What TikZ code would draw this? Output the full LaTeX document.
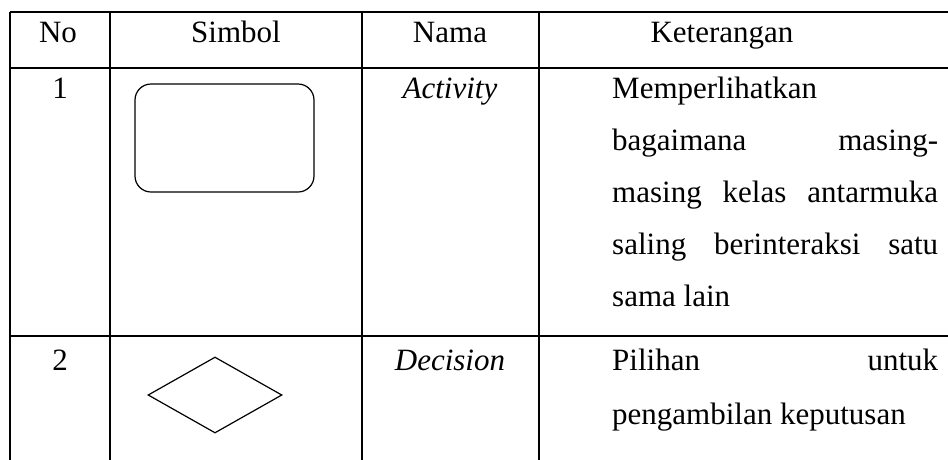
\documentclass[tikz,border=0pt]{standalone}
\usepackage{fontspec}
\setmainfont{Liberation Serif}
\usetikzlibrary{shapes.geometric}
\tikzset{
  tbl/.style={line width=1.6pt},
  txt/.style={inner sep=0pt, anchor=base},
  ktxt/.style={inner sep=0pt, anchor=base west},
  shp/.style={draw, line width=1.2pt, inner sep=0pt}
}
\newcommand{\jline}[1]{\makebox[326pt][s]{#1}}
\begin{document}
\begin{tikzpicture}[x=1pt,y=-1pt,font=\fontsize{31}{36}\selectfont]
\useasboundingbox (0,0) rectangle (948,459);
\clip (0,0) rectangle (948,459);
% table grid
\draw[tbl] (10,12) -- (970,12);
\draw[tbl] (10,68) -- (970,68);
\draw[tbl] (10,336) -- (970,336);
\draw[tbl] (10,12) -- (10,470);
\draw[tbl] (110,12) -- (110,470);
\draw[tbl] (362,12) -- (362,470);
\draw[tbl] (539,12) -- (539,470);
% header
\node[txt] (hno) at (58,42) {No};
\node[txt] (hsim) at (236,42) {Simbol};
\node[txt] (hnama) at (450,42) {Nama};
\node[txt] (hket) at (722,42) {Keterangan};
% row 1
\node[txt] (n1) at (60,98) {1};
\node[shp, rounded corners=16pt, minimum width=179pt, minimum height=108pt] (act) at (224.5,138) {};
\node[txt] (nm1) at (450,98) {\itshape Activity};
\node[ktxt] (k1a) at (612,98) {Memperlihatkan};
\node[ktxt] (k1b) at (612,150) {\jline{bagaimana masing-}};
\node[ktxt] (k1c) at (612,202) {\jline{masing kelas antarmuka}};
\node[ktxt] (k1d) at (612,254) {\jline{saling berinteraksi satu}};
\node[ktxt] (k1e) at (612,306) {sama lain};
% row 2
\node[txt] (n2) at (60,370) {2};
\node[shp, shape=diamond, minimum width=134pt, minimum height=76pt] (dec) at (215,395) {};
\node[txt] (nm2) at (450,370) {\itshape Decision};
\node[ktxt] (k2a) at (612,370) {\jline{Pilihan untuk}};
\node[ktxt] (k2b) at (612,424) {pengambilan keputusan};
\end{tikzpicture}
\end{document}
